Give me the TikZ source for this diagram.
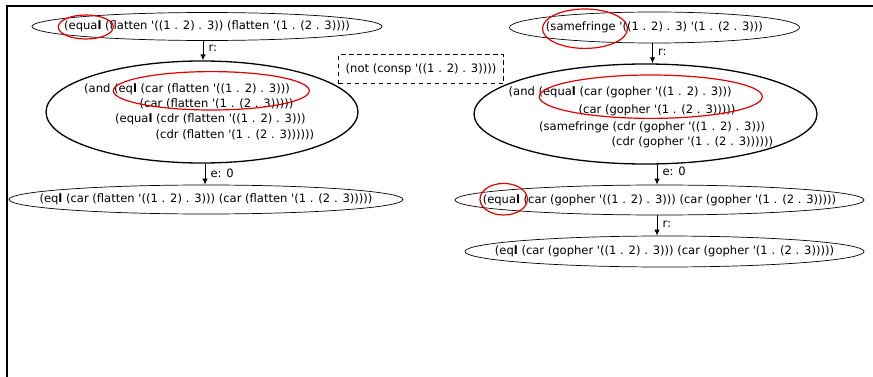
\documentclass[tikz,border=0pt]{standalone}
\usepackage{fontspec}
\setmainfont{DejaVu Sans}[Ligatures=TeXOff]
\usetikzlibrary{shapes.geometric,arrows.meta}
% bold final letter of eq/equal, as printed
\newcommand{\kwl}{\textbf{l}}

\begin{document}
\begin{tikzpicture}[x=1pt,y=-1pt,
  lisp/.style={inner sep=0pt,font=\fontsize{11.55}{15}\selectfont},
  term/.style={ellipse,draw,line width=0.7pt,inner sep=0pt},
  bigterm/.style={ellipse,draw,line width=1.3pt,inner sep=0pt},
  hint/.style={draw,dashed,dash pattern=on 4.5pt off 3.5pt,line width=1pt,inner sep=0pt},
  step arrow/.style={-{Latex[length=6pt,width=5.5pt]},line width=1pt},
  edgelabel/.style={lisp,anchor=west,xshift=5pt},
  mark red/.style={draw=red!90!black,line width=1.2pt}]
\useasboundingbox (0,0) rectangle (873,377);

% frame
\draw[line width=1.2pt] (873,6) -- (7,6) -- (7,377);

% ---- left column: flatten ----
\node[term,minimum width=350pt,minimum height=28pt] (A) at (207,26.5) {};
\node[lisp] (At) at (A) {(equa\kwl{} (flatten '((1 . 2) . 3)) (flatten '(1 . (2 . 3))))};

\node[bigterm,minimum width=312pt,minimum height=102pt] (B) at (202,112) {};
\node[lisp,anchor=base west] (B1) at (84,92.5) {(and (eq\kwl{} (car (flatten '((1 . 2) . 3)))};
\node[lisp,anchor=base west] (B2) at (139.5,108) {(car (flatten '(1 . (2 . 3)))))};
\node[lisp,anchor=base west] (B3) at (115,123) {(equa\kwl{} (cdr (flatten '((1 . 2) . 3)))};
\node[lisp,anchor=base west] (B4) at (155.5,138.5) {(cdr (flatten '(1 . (2 . 3))))))};

\node[term,minimum width=394pt,minimum height=29pt] (C) at (206,199.5) {};
\node[lisp] (Ct) at (C) {(eq\kwl{} (car (flatten '((1 . 2) . 3))) (car (flatten '(1 . (2 . 3)))))};

\draw[step arrow] (A.south) ++(-4,0) coordinate (a0) -- (a0 |- B.north) node[edgelabel,pos=0.4] (ra) {r:};
\draw[step arrow] (B.south) ++(3,0) coordinate (b0) -- (b0 |- C.north) node[edgelabel,pos=0.45] (eb) {e: 0};

% ---- side condition ----
\node[hint,minimum width=165pt,minimum height=29pt] (N) at (421,69.5) {};
\node[lisp] (Nt) at (N) {(not (consp '((1 . 2) . 3))))};

% ---- right column: samefringe ----
\node[term,minimum width=290pt,minimum height=31pt] (D) at (654.5,27.5) {};
\node[lisp] (Dt) at (D) {(samefringe '((1 . 2) . 3) '(1 . (2 . 3)))};

\node[bigterm,minimum width=343pt,minimum height=100pt] (E) at (645.5,114) {};
\node[lisp,anchor=base west] (E1) at (508.5,96) {(and (equa\kwl{} (car (gopher '((1 . 2) . 3)))};
\node[lisp,anchor=base west] (E2) at (578.5,113.5) {(car (gopher '(1 . (2 . 3)))))};
\node[lisp,anchor=base west] (E3) at (539,130.5) {(samefringe (cdr (gopher '((1 . 2) . 3)))};
\node[lisp,anchor=base west] (E4) at (611.5,146) {(cdr (gopher '(1 . (2 . 3))))))};

\node[term,minimum width=409pt,minimum height=30pt] (F) at (659.5,200) {};
\node[lisp] (Ft) at (F) {(equa\kwl{} (car (gopher '((1 . 2) . 3))) (car (gopher '(1 . (2 . 3)))))};

\node[term,minimum width=399pt,minimum height=31pt] (G) at (664.5,251.5) {};
\node[lisp] (Gt) at (G) {(eq\kwl{} (car (gopher '((1 . 2) . 3))) (car (gopher '(1 . (2 . 3)))))};

\draw[step arrow] (D.south) ++(-2,0) coordinate (d0) -- (d0 |- E.north) node[edgelabel,pos=0.45] (rd) {r:};
\draw[step arrow] (E.south) ++(11.5,0) coordinate (e0) -- (e0 |- F.north) node[edgelabel,pos=0.35] (ee) {e: 0};
\draw[step arrow] (F.south) ++(-2.5,0) coordinate (f0) -- (f0 |- G.north) node[edgelabel,pos=0.45] (rf) {r:};

% ---- highlighted redexes ----
\draw[mark red] (85.8,27) ellipse [x radius=27.5, y radius=12];
\draw[mark red] (211.3,90.8) ellipse [x radius=98, y radius=19.2];
\draw[mark red] (585,28.7) ellipse [x radius=42.5, y radius=19.7];
\draw[mark red] (650.8,96.7) ellipse [x radius=111.5, y radius=21.7];
\draw[mark red] (503.7,199.2) ellipse [x radius=23.7, y radius=15.8];
\end{tikzpicture}
\end{document}
